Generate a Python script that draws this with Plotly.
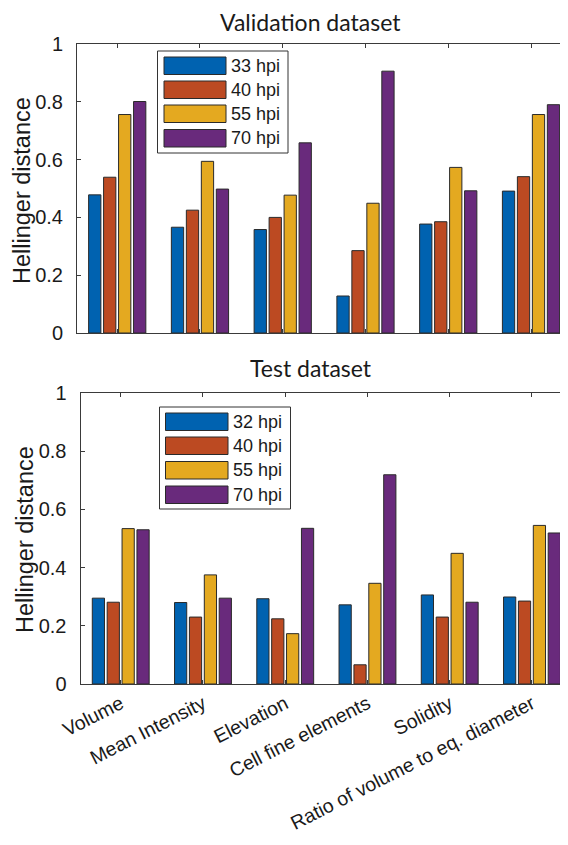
import plotly.graph_objects as go

categories = ["Volume", "Mean Intensity", "Elevation", "Cell fine elements",
              "Solidity", "Ratio of volume to eq. diameter"]

val_series = ["33 hpi", "40 hpi", "55 hpi", "70 hpi"]
val_33 = [0.478, 0.366, 0.358, 0.128, 0.377, 0.491]
val_40 = [0.539, 0.425, 0.400, 0.285, 0.385, 0.541]
val_55 = [0.756, 0.594, 0.477, 0.449, 0.573, 0.756]
val_70 = [0.801, 0.498, 0.658, 0.906, 0.492, 0.790]

test_series = ["32 hpi", "40 hpi", "55 hpi", "70 hpi"]
test_32 = [0.295, 0.280, 0.293, 0.272, 0.306, 0.299]
test_40 = [0.281, 0.230, 0.224, 0.066, 0.230, 0.285]
test_55 = [0.534, 0.375, 0.173, 0.346, 0.449, 0.545]
test_70 = [0.530, 0.295, 0.535, 0.719, 0.281, 0.519]

y_tickvals = [0, 0.2, 0.4, 0.6, 0.8, 1]
y_ticktext = ["0", "0.2", "0.4", "0.6", "0.8", "1"]

colors = ["#0062B0", "#BC4A22", "#E4A920", "#692A7C"]

# page body has an 8px default margin; screen px -> figure px
OFF = 8
W, H = 560, 829
ARIAL = "Liberation Sans"
TXT = "#1a1a1a"
AX = "#3a3a3a"

fig = go.Figure()

for name, vals, col in zip(val_series, [val_33, val_40, val_55, val_70], colors):
    fig.add_trace(go.Bar(x=categories, y=vals, name=name, marker_color=col,
                         marker_line=dict(color="#2a2a2a", width=1),
                         xaxis="x", yaxis="y", showlegend=False))
for name, vals, col in zip(test_series, [test_32, test_40, test_55, test_70], colors):
    fig.add_trace(go.Bar(x=categories, y=vals, name=name, marker_color=col,
                         marker_line=dict(color="#2a2a2a", width=1),
                         xaxis="x2", yaxis="y2", showlegend=False))


def px_x(p):
    return (p - OFF) / W


def px_y(p):
    return 1 - (p - OFF) / H


common_x = dict(type="category", showline=True, linecolor=AX, linewidth=1,
                mirror="ticks", ticks="inside", ticklen=4, tickcolor=AX,
                showgrid=False, zeroline=False, automargin=False)
common_y = dict(range=[0, 1], tickvals=y_tickvals, ticktext=y_ticktext,
                showline=True, linecolor=AX, linewidth=1, mirror="ticks",
                ticks="inside", ticklen=4, tickcolor=AX, showgrid=False,
                zeroline=False, automargin=False,
                tickfont=dict(family=ARIAL, size=20, color=TXT),
                ticklabelstandoff=9)

fig.update_layout(
    template="none",
    width=W, height=H,
    margin=dict(l=0, r=0, t=0, b=0, autoexpand=False),
    paper_bgcolor="white", plot_bgcolor="white",
    showlegend=False,
    barmode="group", bargap=0.276, bargroupgap=0.18,
    xaxis=dict(common_x, domain=[px_x(77), 1.0], range=[-0.486, 5.447],
               showticklabels=False, anchor="y"),
    yaxis=dict(common_y, domain=[px_y(333), px_y(44)], anchor="x"),
    xaxis2=dict(common_x, domain=[px_x(80.5), 1.0], range=[-0.489, 5.438],
                tickangle=-27, tickfont=dict(family=ARIAL, size=19.5, color=TXT),
                anchor="y2"),
    yaxis2=dict(common_y, domain=[px_y(684), px_y(393)], anchor="x2"),
)

annotations = [
    dict(text="Validation dataset", x=px_x(310), y=px_y(22), xref="paper", yref="paper",
         showarrow=False, font=dict(family="Lato", size=23, color=TXT),
         xanchor="center", yanchor="middle"),
    dict(text="Test dataset", x=px_x(311), y=px_y(368), xref="paper", yref="paper",
         showarrow=False, font=dict(family="Lato", size=23, color=TXT),
         xanchor="center", yanchor="middle"),
    dict(text="Hellinger distance", x=px_x(22), y=px_y(191), xref="paper", yref="paper",
         showarrow=False, textangle=-90, font=dict(family=ARIAL, size=23.5, color=TXT),
         xanchor="center", yanchor="middle"),
    dict(text="Hellinger distance", x=px_x(25), y=px_y(540), xref="paper", yref="paper",
         showarrow=False, textangle=-90, font=dict(family=ARIAL, size=23.5, color=TXT),
         xanchor="center", yanchor="middle"),
]

shapes = []


def add_legend(names, box, sw_x, row_tops, sw_h, text_x):
    x0, y0, x1, y1 = box
    shapes.append(dict(type="rect", xref="paper", yref="paper",
                       x0=px_x(x0), x1=px_x(x1), y0=px_y(y1), y1=px_y(y0),
                       line=dict(color="#333333", width=1), fillcolor="white"))
    for name, col, top in zip(names, colors, row_tops):
        shapes.append(dict(type="rect", xref="paper", yref="paper",
                           x0=px_x(sw_x[0]), x1=px_x(sw_x[1]),
                           y0=px_y(top + sw_h), y1=px_y(top),
                           line=dict(color="#2a2a2a", width=1), fillcolor=col))
        annotations.append(dict(text=name, x=px_x(text_x), y=px_y(top + sw_h / 2),
                                xref="paper", yref="paper", showarrow=False,
                                xanchor="left", yanchor="middle",
                                font=dict(family=ARIAL, size=18, color=TXT)))


add_legend(val_series, (157.5, 51, 288, 153), (164, 226), [57, 81, 105, 129.5], 17.5, 229)
add_legend(test_series, (159.5, 407, 290.5, 509), (165.5, 228), [413, 437, 461.5, 486], 17.5, 231)

fig.update_layout(annotations=annotations, shapes=shapes)

fig.write_html("out.html")
